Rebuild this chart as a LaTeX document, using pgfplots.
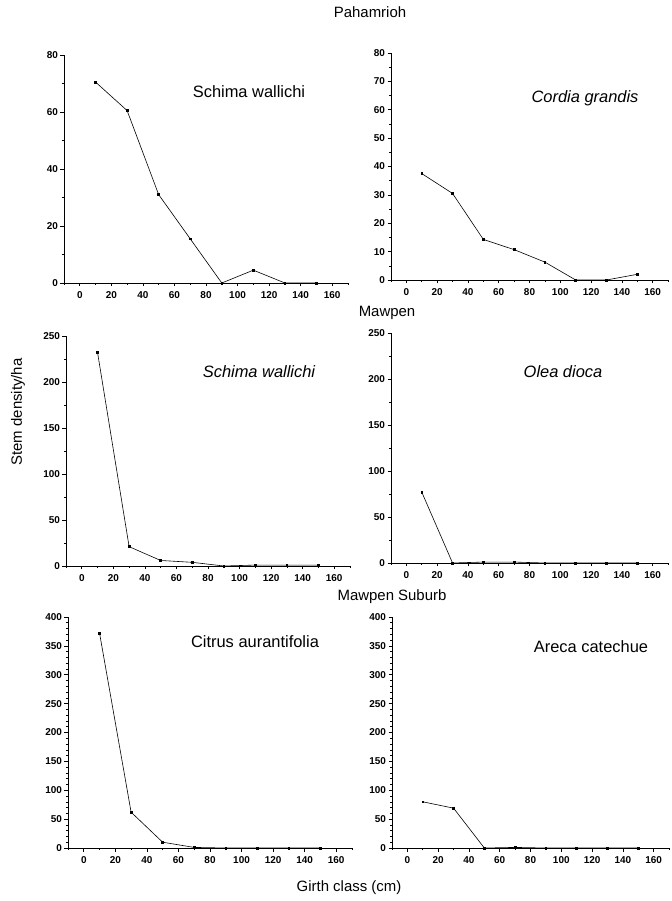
\documentclass[border=0pt]{standalone}
\usepackage{fontspec}
\setmainfont{Liberation Sans}
\usepackage{pgfplots}
\pgfplotsset{compat=1.18}
\pgfplotsset{
 ser/.style={black, line width=0.6pt, mark=square*, mark size=0.9pt, mark options={draw=black, fill=black, solid}},
 mypanel/.style={
  scale only axis,
  axis x line*=bottom, axis y line*=left,
  xmin=-10, xmax=170, ymin=0,
  xtick={0,20,...,160},
  minor xtick={-10,10,...,170},
  tick align=outside,
  major tick length=3.5bp, minor tick length=2bp,
  every tick/.style={black, line width=0.6pt},
  axis line style={line width=0.9pt},
  tick label style={font=\fontsize{10}{11}\selectfont\bfseries},
  /pgf/number format/assume math mode=true,
  xticklabel style={yshift=-2bp},
  yticklabel style={xshift=1bp},
  clip=false,
 }
}
\begin{document}
\begin{tikzpicture}
\useasboundingbox (0,0) rectangle (672bp,901bp);
% Pahamrioh
\begin{axis}[mypanel, at={(64bp,618bp)}, anchor=south west, width=284bp, height=228bp,
  ymax=80, ytick={0,20,...,80}, minor ytick={10,30,...,70}]
\addplot[ser] coordinates {(10,70.5)(30,60.5)(50,31)(70,15.5)(90,0)(110,4.5)(130,0)(150,0)};
\end{axis}
\begin{axis}[mypanel, at={(391bp,621bp)}, anchor=south west, width=277bp, height=227bp,
  ymax=80, ytick={0,10,...,80}, minor ytick={5,15,...,75}]
\addplot[ser] coordinates {(10,37.5)(30,30.5)(50,14.3)(70,10.7)(90,6.3)(110,0)(130,0)(150,2)};
\end{axis}
% Mawpen
\begin{axis}[mypanel, at={(66bp,335bp)}, anchor=south west, width=284bp, height=230bp,
  ymax=250, ytick={0,50,...,250}, minor ytick={25,75,...,225}]
\addplot[ser] coordinates {(10,232)(30,21)(50,6)(70,4)(90,0)(110,1)(130,1)(150,1)};
\end{axis}
\begin{axis}[mypanel, at={(391bp,338bp)}, anchor=south west, width=277bp, height=230bp,
  ymax=250, ytick={0,50,...,250}, minor ytick={25,75,...,225}]
\addplot[ser] coordinates {(10,77)(30,0)(50,1)(70,1)(90,0)(110,0)(130,0)(150,0)};
\end{axis}
% Mawpen Suburb
\begin{axis}[mypanel, at={(68bp,53bp)}, anchor=south west, width=284bp, height=231bp,
  ymax=400, ytick={0,50,...,400}, minor y tick num=4]
\addplot[ser] coordinates {(10,372)(30,62)(50,10)(70,1)(90,0)(110,0)(130,0)(150,0)};
\end{axis}
\begin{axis}[mypanel, at={(392bp,53bp)}, anchor=south west, width=277bp, height=231bp,
  ymax=400, ytick={0,50,...,400}, minor y tick num=4]
\addplot[ser] coordinates {(10,80)(30,69)(50,0)(70,1)(90,0)(110,0)(130,0)(150,0)};
\end{axis}
% titles
\node[font=\fontsize{15}{16}\selectfont] at (370bp,889bp) {Pahamrioh};
\node[font=\fontsize{15}{16}\selectfont] at (387bp,588bp) {Mawpen};
\node[font=\fontsize{15}{16}\selectfont] at (392bp,304bp) {Mawpen Suburb};
\node[font=\fontsize{15}{16}\selectfont, rotate=90] at (18bp,489bp) {Stem density/ha};
\node[font=\fontsize{15}{16}\selectfont] at (349bp,13bp) {Girth class (cm)};
% species
\node[font=\fontsize{16.5}{18}\selectfont] at (249bp,809bp) {Schima wallichi};
\node[font=\fontsize{16.5}{18}\selectfont\itshape] at (585bp,803bp) {Cordia grandis};
\node[font=\fontsize{16.5}{18}\selectfont\itshape] at (259bp,529bp) {Schima wallichi};
\node[font=\fontsize{16.5}{18}\selectfont\itshape] at (563bp,529bp) {Olea dioca};
\node[font=\fontsize{16.5}{18}\selectfont] at (255bp,259bp) {Citrus aurantifolia};
\node[font=\fontsize{16.5}{18}\selectfont] at (591bp,254bp) {Areca catechue};
\end{tikzpicture}
\end{document}
